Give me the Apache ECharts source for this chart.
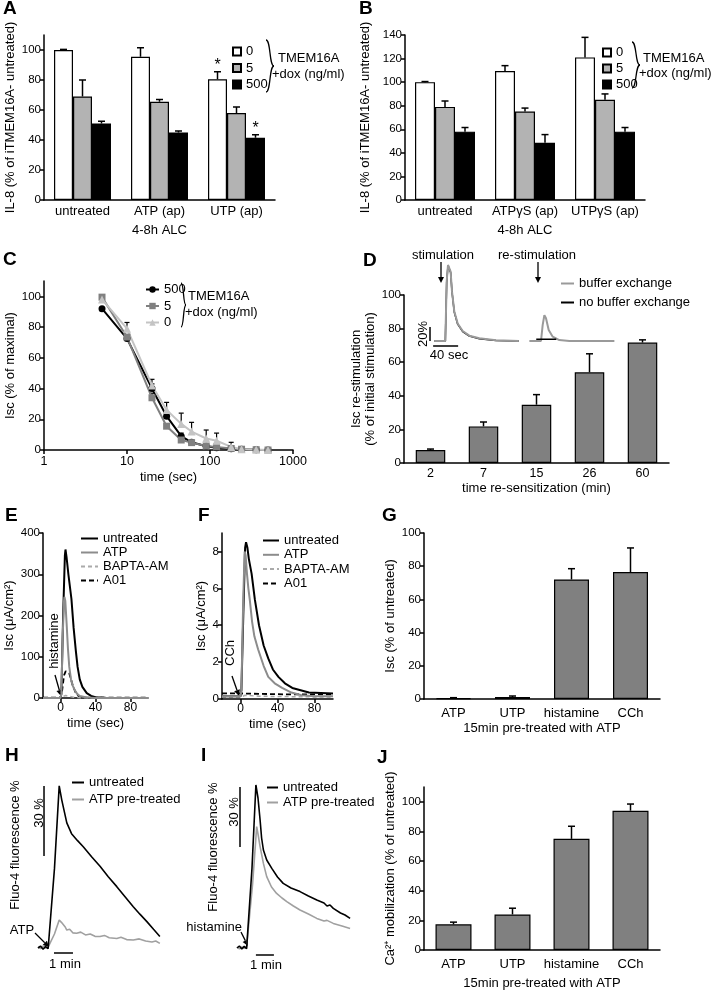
<!DOCTYPE html>
<html><head><meta charset="utf-8">
<script src="https://cdn.jsdelivr.net/npm/echarts@6/dist/echarts.min.js"></script>
<style>html,body{margin:0;padding:0;background:#fff}#c{width:712px;height:991px}</style>
</head><body><div id="c"></div>
<script>
// ---------------- DATA ----------------
// Panel A
const catsA = ['untreated', 'ATP (ap)', 'UTP (ap)'];
const a0 = [100, 95.5, 80.5], a0Err = [0.4, 6, 5];
const a5 = [69, 65.5, 58], a5Err = [11, 1.5, 4];
const a500 = [51, 45, 41.5], a500Err = [1.5, 1, 2];
const a0Sig = ['', '', '*'], a500Sig = ['', '', '*'];
// Panel B
const catsB = ['untreated', 'ATPγS (ap)', 'UTPγS (ap)'];
const b0 = [100, 109.5, 121], b0Err = [0.5, 4.5, 17];
const b5 = [79, 75, 85], b5Err = [5, 3, 5];
const b500 = [58, 48.5, 58], b500Err = [3.5, 7, 3.5];
// Panel C
const timeC = [5, 10, 20, 30, 45, 60, 90, 120, 180, 240, 360, 500];
const c500 = [92, 72.5, 40, 22, 9, 5, 2.5, 1.5, 0.8, 0.5, 0.2, 0];
const c500Err = [0, 2, 3, 3, 2, 1, 1, 0.5, 0.5, 0.3, 0, 0];
const c5 = [99.5, 73.5, 34, 15.5, 6.5, 4.8, 2.6, 2, 1, 0.5, 0.2, 0];
const c5Err = [0, 0, 3, 1.5, 1.5, 1, 0.5, 0.5, 0.3, 0, 0, 0];
const c0 = [98, 79, 42, 26, 17, 12, 7.5, 6, 2, 0.5, 0.3, 0];
const c0Err = [0, 4, 4, 5, 7, 6, 5.5, 5, 3, 0.5, 0, 0];
// Panel D
const catsD = ['2', '7', '15', '26', '60'];
const dVals = [7.7, 21.8, 34.7, 54, 71.7];
const dErr = [0.6, 2.6, 6, 11, 1.6];
// Panel D inset traces [sec, % of peak]
const dStimBuf = [[7,0],[24.5,0],[26.7,85],[28.8,108.6],[30.9,111],[33,99],[35.2,70.5],[38.9,42],[44.3,25],[52.3,14.3],[62.9,7.6],[78.9,3.8],[105.6,1],[142,0]];
const dStimNo = [[7,0],[24.5,0],[26.7,84],[28.8,108],[30.9,110],[33,98],[35.2,70],[38.9,41],[44.3,24],[52.3,13.5],[62.9,7],[78.9,3.3],[105.6,0.8],[142,0]];
const dReBuf = [[159,0],[177.6,0],[180.3,23],[183,37],[185.6,32.4],[189.9,15.7],[196.3,6.2],[206.9,1.4],[223,0],[295,0]];
const dReNo = [[170,2.5],[202,2.5]];
const dScaleV = [[0,0],[0,20]];
const dScaleH = [[5,-7],[45,-7]];
// Panel E traces [sec, µA/cm²]
const eUntr = [[-20,0],[0,0],[1,10],[3,200],[5,345],[5.7,360],[7,340],[9,300],[12.5,240],[15,170],[17.5,115],[19.5,76],[22,45],[25,27],[30,12],[35,5],[40,2],[50,0.5],[100,0]];
const eATP = [[-20,0],[0,0],[1,10],[2.5,150],[4,235],[4.5,245],[5.5,235],[7,180],[8.5,120],[10,76],[12,45],[14,30],[16,20],[19,10],[22,5],[30,1],[40,0],[100,0]];
const eBAPTA = [[-20,0],[0,0],[3,4],[6,6],[10,4],[15,2],[25,0],[100,0]];
const eA01 = [[-20,1],[0,1],[2,20],[4,55],[6,65],[8,68],[10,60],[12,45],[14,30],[16,20],[18,10],[21,4],[25,1],[100,1]];
// Panel F traces
const fUntr = [[-20,0.15],[0,0.15],[1,0.5],[3,4.5],[5,8.2],[6,8.5],[7.5,8.2],[9,7.6],[12,6.8],[15.5,5.4],[20,4.0],[25,2.9],[30,2.2],[35,1.6],[41,1.2],[48,0.85],[56,0.6],[74,0.35],[100,0.3]];
const fATP = [[-20,0.15],[0,0.15],[1,0.5],[3,5.5],[4.5,8],[5.5,7.8],[7,6.8],[8.5,6],[10,5.4],[12.5,4.2],[15,3.4],[19,2.7],[25,1.8],[30,1.2],[37,0.85],[45,0.6],[55,0.35],[66,0.2],[80,0.15],[100,0.15]];
const fBAPTA = [[-20,0.1],[0,0.1],[5,0.2],[20,0.15],[100,0.1]];
const fA01 = [[-20,0.3],[0,0.3],[20,0.28],[50,0.25],[100,0.25]];
// Panel G
const catsG = ['ATP', 'UTP', 'histamine', 'CCh'];
const gVals = [0.5, 1.2, 72, 76.5];
const gErr = [0.3, 0.6, 6.5, 14.5];
// Panel H traces [sec, % fluorescence]
const hUntr = [[0,0],[8,0.8],[16,-0.5],[24,0.6],[32,-0.3],[38,0],[52,34],[67,69.5],[75,63.5],[91,53.6],[106,49],[125,46],[143,43.4],[170,39],[196,35],[222,30.5],[249,26.3],[275,22],[301,17.7],[322,14.5],[344,11.3],[365,8],[385,4.9]];
const hATP = [[0,0.5],[8,-0.3],[16,0.8],[24,0],[32,0.4],[38,0],[52,6],[67,12],[74,11],[80,11.3],[86,9],[91,7.7],[100,8],[110,6.5],[122,6.3],[135,6.8],[150,5.6],[165,6],[180,5],[196,4.9],[210,5.4],[225,4.4],[249,4.1],[262,4.6],[280,3.6],[301,3.4],[320,3.9],[340,3],[360,2.6],[372,3],[385,2]];
const hScaleV = [[19,39.4],[19,69.4]];
const hScaleH = [[50.5,-2.1],[110.5,-2.1]];
// Panel I traces
const iUntr = [[0,0],[8,1],[16,-0.5],[24,0.8],[32,-0.3],[38,0],[50,40],[63,81.5],[70,75],[77,64],[82,55],[88,49],[99,44],[116,39.8],[135,35.5],[154,32.3],[180,30],[210,28.2],[238,26],[266,24],[290,22.5],[300,21],[310,21.5],[321,19.8],[345,17.5],[360,16.5],[377,14.8]];
const iATP = [[0,0.5],[8,-0.5],[16,0.6],[24,-0.2],[32,0.5],[38,0],[52,32],[65.6,60.7],[70,57],[77,50.7],[88,42.3],[99,35.7],[115,30.5],[132,27.3],[150,25],[166,23.2],[188,21],[210,19],[238,17],[266,14.8],[290,13.5],[300,13.8],[321,12.3],[350,11],[377,9.8]];
const iScaleV = [[10,50.5],[10,80.5]];
const iScaleH = [[63,-3.5],[123,-3.5]];
// Panel J
const catsJ = ['ATP', 'UTP', 'histamine', 'CCh'];
const jVals = [17.3, 24, 75, 94];
const jErr = [1.5, 4.2, 8.5, 4.5];
// tick label lists
const ticks0to100 = [0, 20, 40, 60, 80, 100];
const ticksF = [0, 2, 4, 6, 8];
const ticksTime = [0, 40, 80];

// ---------------- HELPERS ----------------
const FONT = "'Liberation Sans', Arial, Helvetica, sans-serif";
const nameStyle = {color:'#000', fontFamily:FONT, fontSize:13, lineHeight:14};
const axLine = {show:true, onZero:false, lineStyle:{color:'#000', width:1.5}};

function yAx(gi, max, interval, ticks, name, gap) {
  const tick = {show:true, length:4, lineStyle:{color:'#000', width:1.5}};
  const lab = {color:'#000', fontFamily:FONT, fontSize:11.5, margin:3};
  if (ticks) { tick.customValues = ticks; lab.customValues = ticks; }
  const o = {gridIndex:gi, type:'value', min:0, max:max, axisLine:axLine, axisTick:tick, axisLabel:lab,
    splitLine:{show:false}, name:name, nameLocation:'middle', nameGap:gap, nameTextStyle:nameStyle};
  if (interval) o.interval = interval;
  return o;
}
function xCat(gi, cats, name, gap, fs, margin) {
  return {gridIndex:gi, type:'category', data:cats, axisLine:axLine, axisTick:{show:false},
    axisLabel:{color:'#000', fontFamily:FONT, fontSize:fs, margin:margin, interval:0},
    name:name, nameLocation:'middle', nameGap:gap, nameTextStyle:nameStyle};
}
function xTime(gi) {
  return {gridIndex:gi, type:'value', min:-20, max:100, axisLine:axLine,
    axisTick:{show:true, length:4, customValues:ticksTime, lineStyle:{color:'#000', width:1.5}},
    axisLabel:{color:'#000', fontFamily:FONT, fontSize:12, margin:4, customValues:ticksTime},
    splitLine:{show:false}, name:'time (sec)', nameLocation:'middle', nameGap:18, nameTextStyle:nameStyle};
}
function hid(gi, min, max) { return {gridIndex:gi, type:'value', min:min, max:max, show:false}; }

function bar(ax, name, data, color, gap) {
  return {type:'bar', name:name, xAxisIndex:ax, yAxisIndex:ax, data:data, barGap:'0%',
    barCategoryGap:(gap*100)+'%', silent:true,
    itemStyle:{color:color, borderColor:'#000', borderWidth:1.2}};
}
function errBars(ax, vals, errs, k, n, gap, sig) {
  return {type:'custom', xAxisIndex:ax, yAxisIndex:ax, silent:true, z:4,
    data: vals.map((v, i) => [i, v, errs[i]]),
    renderItem: function (params, api) {
      const i = api.value(0), v = api.value(1), e = api.value(2);
      const band = api.size([1, 0])[0];
      const bw = band * (1 - gap) / n;
      const p0 = api.coord([i, v]), p1 = api.coord([i, v + e]);
      const x = p0[0] + (k - (n - 1) / 2) * bw;
      const ch = [
        {type:'line', shape:{x1:x, y1:p0[1], x2:x, y2:p1[1]}, style:{stroke:'#000', lineWidth:1.5}},
        {type:'line', shape:{x1:x-3.5, y1:p1[1], x2:x+3.5, y2:p1[1]}, style:{stroke:'#000', lineWidth:1.5}}
      ];
      if (sig && sig[i]) ch.push({type:'text', x:x, y:p1[1]-14,
        style:{text:sig[i], font:'16px '+FONT, fill:'#000', align:'center', verticalAlign:'top', textAlign:'center', textVerticalAlign:'top'}});
      return {type:'group', children:ch};
    }};
}
function errPts(ax, xs, vals, errs) {
  return {type:'custom', xAxisIndex:ax, yAxisIndex:ax, silent:true, z:1,
    data: xs.map((t, i) => [t, vals[i], errs[i]]),
    renderItem: function (params, api) {
      const t = api.value(0), v = api.value(1), e = api.value(2);
      if (!e) return null;
      const p0 = api.coord([t, v]), p1 = api.coord([t, v + e]);
      return {type:'group', children:[
        {type:'line', shape:{x1:p0[0], y1:p0[1], x2:p1[0], y2:p1[1]}, style:{stroke:'#000', lineWidth:1.2}},
        {type:'line', shape:{x1:p1[0]-2.5, y1:p1[1], x2:p1[0]+2.5, y2:p1[1]}, style:{stroke:'#000', lineWidth:1.2}}
      ]};
    }};
}
function trace(ax, name, data, color, width, dash) {
  return {type:'line', name:name, xAxisIndex:ax, yAxisIndex:ax, data:data, symbol:'none', silent:true,
    lineStyle:{color:color, width:width, type: dash || 'solid'}, itemStyle:{color:color}};
}
function scaleBar(ax, data) {
  return {type:'line', xAxisIndex:ax, yAxisIndex:ax, data:data, symbol:'none', silent:true, clip:false,
    lineStyle:{color:'#000', width:1.5}, itemStyle:{color:'#000'}};
}

// graphic helpers (annotations)
function txt(x, y, s, o) {
  o = o || {};
  const size = o.size || 13;
  const al = o.align || 'left';
  return {type:'text', x:x, y:y, rotation:o.rot || 0, silent:true,
    style:{text:s, font:(o.bold ? 'bold ' : '') + size + 'px ' + FONT, fill:'#000',
      align:al, verticalAlign:'middle', textAlign:al, textVerticalAlign:'middle'}};
}
function ln(x1, y1, x2, y2, w) {
  return {type:'line', silent:true, shape:{x1:x1, y1:y1, x2:x2, y2:y2}, style:{stroke:'#000', lineWidth:w || 1.3}};
}
function arrow(x1, y1, x2, y2) {
  const a = Math.atan2(y2 - y1, x2 - x1), L = 6, W = 3;
  const bx = x2 - L * Math.cos(a), by = y2 - L * Math.sin(a);
  const px = -Math.sin(a) * W, py = Math.cos(a) * W;
  return [ln(x1, y1, bx, by, 1.3),
    {type:'polygon', silent:true, shape:{points:[[x2, y2], [bx + px, by + py], [bx - px, by - py]]}, style:{fill:'#000'}}];
}
function brace(x, y0, y1, w) {
  const ym = (y0 + y1) / 2;
  const mk = (ya) => ({type:'bezierCurve', silent:true,
    shape:{x1:x, y1:ya, x2:x + w, y2:ym, cpx1:x + w * 0.62, cpy1:ya, cpx2:x + w * 0.38, cpy2:ym},
    style:{stroke:'#000', lineWidth:1.3, fill:'none'}});
  return [mk(y0), mk(y1)];
}

// ---------------- CHART ----------------
const chart = echarts.init(document.getElementById('c'), null, {renderer:'canvas'});

const grids = [
  {left:44, top:35, width:231, height:165},      // 0 A
  {left:405, top:35, width:240, height:165},     // 1 B
  {left:44, top:281, width:249, height:169},     // 2 C
  {left:404, top:295, width:265, height:168},    // 3 D
  {left:430, top:257, width:187.5, height:91},   // 4 D inset
  {left:43, top:533, width:105, height:165},     // 5 E
  {left:222, top:533, width:111, height:166},    // 6 F
  {left:424, top:533, width:236, height:166},    // 7 G
  {left:38, top:773, width:126.6, height:189},   // 8 H
  {left:237, top:768, width:120, height:192},    // 9 I
  {left:424, top:787, width:236, height:165}     // 10 J
];

const xAxes = [
  xCat(0, catsA, '4-8h ALC', 23, 13, 5),
  xCat(1, catsB, '4-8h ALC', 23, 13, 5),
  {gridIndex:2, type:'log', logBase:10, min:1, max:1000, axisLine:axLine,
    axisTick:{show:true, length:4, lineStyle:{color:'#000', width:1.5}},
    axisLabel:{color:'#000', fontFamily:FONT, fontSize:12.5, margin:5, formatter:function (v) { return String(Math.round(v)); }},
    minorTick:{show:false}, splitLine:{show:false},
    name:'time (sec)', nameLocation:'middle', nameGap:20, nameTextStyle:nameStyle},
  xCat(3, catsD, 'time re-sensitization (min)', 18, 12.5, 4),
  hid(4, 0, 300),
  xTime(5),
  xTime(6),
  xCat(7, catsG, '15min pre-treated with ATP', 22, 13, 8),
  hid(8, 0, 400),
  hid(9, 0, 400),
  xCat(10, catsJ, '15min pre-treated with ATP', 26, 13, 8)
];
const yAxes = [
  yAx(0, 110, null, ticks0to100, 'IL-8 (% of iTMEM16A- untreated)', 25),
  yAx(1, 140, 20, null, 'IL-8 (% of iTMEM16A- untreated)', 33),
  yAx(2, 110, null, ticks0to100, 'Isc (% of maximal)', 23),
  yAx(3, 100, 20, null, 'Isc re-stimulation\n(% of initial stimulation)', 21),
  hid(4, -10, 120),
  yAx(5, 400, 100, null, 'Isc (μA/cm²)', 25),
  yAx(6, 9, null, ticksF, 'Isc (μA/cm²)', 14),
  yAx(7, 100, 20, null, 'Isc (% of untreated)', 19),
  hid(8, -6, 75),
  hid(9, -6, 90),
  yAx(10, 110, null, ticks0to100, 'Ca²⁺ mobilization (% of untreated)', 24)
];

const WHITE = '#ffffff', LGRAY = '#b3b3b3', BLACK = '#000000', MGRAY = '#808080';
const series = [
  // A
  bar(0, '0', a0, WHITE, 0.26), bar(0, '5', a5, LGRAY, 0.26), bar(0, '500', a500, BLACK, 0.26),
  errBars(0, a0, a0Err, 0, 3, 0.26, a0Sig), errBars(0, a5, a5Err, 1, 3, 0.26), errBars(0, a500, a500Err, 2, 3, 0.26, a500Sig),
  // B
  bar(1, '0', b0, WHITE, 0.25), bar(1, '5', b5, LGRAY, 0.25), bar(1, '500', b500, BLACK, 0.25),
  errBars(1, b0, b0Err, 0, 3, 0.25), errBars(1, b5, b5Err, 1, 3, 0.25), errBars(1, b500, b500Err, 2, 3, 0.25),
  // C
  errPts(2, timeC, c0, c0Err), errPts(2, timeC, c5, c5Err), errPts(2, timeC, c500, c500Err),
  {type:'line', name:'c:500', xAxisIndex:2, yAxisIndex:2, data:timeC.map((t, i) => [t, c500[i]]), symbol:'circle', symbolSize:7, silent:true,
    itemStyle:{color:'#000'}, lineStyle:{color:'#000', width:2}},
  {type:'line', name:'c:5', xAxisIndex:2, yAxisIndex:2, data:timeC.map((t, i) => [t, c5[i]]), symbol:'rect', symbolSize:7, silent:true,
    itemStyle:{color:'#808080'}, lineStyle:{color:'#808080', width:2}},
  {type:'line', name:'c:0', xAxisIndex:2, yAxisIndex:2, data:timeC.map((t, i) => [t, c0[i]]), symbol:'triangle', symbolSize:8, silent:true,
    itemStyle:{color:'#c4c4c4'}, lineStyle:{color:'#c4c4c4', width:2}},
  // D
  bar(3, 'D', dVals, MGRAY, 0.443), errBars(3, dVals, dErr, 0, 1, 0.443),
  trace(4, 'no buffer exchange', dStimNo, '#000', 1.5),
  trace(4, 'buffer exchange', dStimBuf, '#9a9a9a', 2),
  trace(4, 'buffer exchange', dReBuf, '#9a9a9a', 2),
  trace(4, 'no buffer exchange', dReNo, '#000', 1.5),
  scaleBar(4, dScaleV), scaleBar(4, dScaleH),
  // E
  trace(5, 'e:A01', eA01, '#000', 1.8, [5, 3]),
  trace(5, 'e:BAPTA-AM', eBAPTA, '#aaaaaa', 1.5, [4, 3]),
  trace(5, 'e:untreated', eUntr, '#000', 2),
  trace(5, 'e:ATP', eATP, '#8c8c8c', 2),
  // F
  trace(6, 'f:A01', fA01, '#000', 1.8, [5, 3]),
  trace(6, 'f:BAPTA-AM', fBAPTA, '#aaaaaa', 1.5, [4, 3]),
  trace(6, 'f:untreated', fUntr, '#000', 2),
  trace(6, 'f:ATP', fATP, '#8c8c8c', 2),
  // G
  bar(7, 'G', gVals, MGRAY, 0.407), errBars(7, gVals, gErr, 0, 1, 0.407),
  // H
  trace(8, 'h:ATP pre-treated', hATP, '#a0a0a0', 1.6),
  trace(8, 'h:untreated', hUntr, '#000', 1.6),
  scaleBar(8, hScaleV), scaleBar(8, hScaleH),
  // I
  trace(9, 'i:ATP pre-treated', iATP, '#a0a0a0', 1.6),
  trace(9, 'i:untreated', iUntr, '#000', 1.6),
  scaleBar(9, iScaleV), scaleBar(9, iScaleH),
  // J
  bar(10, 'J', jVals, MGRAY, 0.39), errBars(10, jVals, jErr, 0, 1, 0.39)
];

const legBase = {orient:'vertical', selectedMode:false, padding:0, itemWidth:8, itemHeight:8,
  textStyle:{fontFamily:FONT, fontSize:13, color:'#000', lineHeight:12},
  formatter: function (n) { const p = n.indexOf(':'); return p >= 0 ? n.slice(p + 1) : n; }};
function leg(o) { return Object.assign({}, legBase, o); }
const lineOnly = {opacity:0};
const legends = [
  leg({data:['0', '5', '500'], icon:'rect', left:232, top:45, itemGap:3.5}),
  leg({data:['0', '5', '500'], icon:'rect', left:602, top:46, itemGap:3}),
  leg({data:['c:500', 'c:5', 'c:0'], left:145, top:283, itemWidth:13, itemGap:3.5}),
  leg({data:['buffer exchange', 'no buffer exchange'], left:560, top:277, itemWidth:13, itemHeight:4, itemGap:6, itemStyle:lineOnly}),
  leg({data:['e:untreated', 'e:ATP', 'e:BAPTA-AM', 'e:A01'], left:80, top:532, itemWidth:17, itemHeight:4, itemGap:1, itemStyle:lineOnly}),
  leg({data:['f:untreated', 'f:ATP', 'f:BAPTA-AM', 'f:A01'], left:262, top:534, itemWidth:16, itemHeight:4, itemGap:1.3, itemStyle:lineOnly}),
  leg({data:['h:untreated', 'h:ATP pre-treated'], left:71, top:776, itemWidth:12, itemHeight:4, itemGap:4, itemStyle:lineOnly}),
  leg({data:['i:untreated', 'i:ATP pre-treated'], left:266, top:781, itemWidth:11, itemHeight:4, itemGap:2, itemStyle:lineOnly})
];

const R = Math.PI / 2;
let gfx = [];
[['A', 3, 9], ['B', 359, 9], ['C', 3, 260], ['D', 363, 261], ['E', 5, 516], ['F', 198, 516],
 ['G', 382, 516], ['H', 5, 756], ['I', 201, 756], ['J', 377, 758]].forEach(p => gfx.push(txt(p[1], p[2], p[0], {bold:true, size:19})));
// braces + legend titles
gfx = gfx.concat(brace(266, 40, 92, 8), brace(632, 42, 88, 8), brace(181, 283, 327, 5));
gfx.push(txt(278, 58, 'TMEM16A'), txt(272, 74, '+dox (ng/ml)'));
gfx.push(txt(643, 58, 'TMEM16A'), txt(639, 73, '+dox (ng/ml)'));
gfx.push(txt(188, 296, 'TMEM16A'), txt(185, 312, '+dox (ng/ml)'));
// D inset annotations
gfx.push(txt(443, 255, 'stimulation', {align:'center'}), txt(537, 255, 're-stimulation', {align:'center'}));
gfx = gfx.concat(arrow(441, 262, 441, 283), arrow(538, 262, 538, 283));
gfx.push(txt(423, 334, '20%', {rot:R, align:'center'}), txt(449, 355, '40 sec', {align:'center'}));
// E / F stimulus labels
gfx.push(txt(54, 641, 'histamine', {rot:R, align:'center'}));
gfx = gfx.concat(arrow(55, 675, 61, 696));
gfx.push(txt(230, 653, 'CCh', {rot:R, align:'center'}));
gfx = gfx.concat(arrow(232, 676, 239, 696));
// H
gfx.push(txt(15, 845, 'Fluo-4 fluorescence %', {rot:R, align:'center'}));
gfx.push(txt(39, 813, '30 %', {rot:R, align:'center'}));
gfx.push(txt(22, 930, 'ATP', {align:'center'}));
gfx = gfx.concat(arrow(35, 933, 49, 947));
gfx.push(txt(65, 964, '1 min', {align:'center'}));
// I
gfx.push(txt(213, 847, 'Fluo-4 fluorescence %', {rot:R, align:'center'}));
gfx.push(txt(234, 812, '30 %', {rot:R, align:'center'}));
gfx.push(txt(242, 927, 'histamine', {align:'right'}));
gfx = gfx.concat(arrow(241, 932, 248, 946));
gfx.push(txt(266, 965, '1 min', {align:'center'}));

chart.setOption({
  backgroundColor:'#ffffff',
  animation:false,
  textStyle:{fontFamily:FONT},
  grid:grids,
  xAxis:xAxes,
  yAxis:yAxes,
  legend:legends,
  series:series,
  graphic:gfx
});
</script></body></html>
